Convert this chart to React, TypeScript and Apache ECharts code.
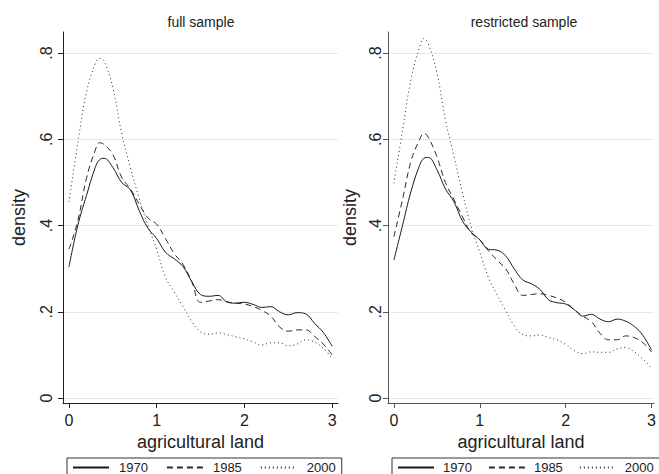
import React, { useEffect, useRef } from "react";
import * as echarts from "echarts";

const FONT = "'Liberation Sans', Arial, Helvetica, sans-serif";

const PANEL_TITLES = ["full sample", "restricted sample"];
const YEARS = ["1970", "1985", "2000"];
const X_TICKS = [0, 1, 2, 3];
const Y_TICKS = [0, 0.2, 0.4, 0.6, 0.8];
const X_LABEL = "agricultural land";
const Y_LABEL = "density";

// agricultural land grid points
const XS = [
  0, 0.1, 0.2, 0.3, 0.35, 0.4, 0.5, 0.6, 0.7, 0.8, 0.9, 1.0, 1.1, 1.2, 1.3, 1.4,
  1.5, 1.6, 1.7, 1.8, 1.9, 2.0, 2.1, 2.2, 2.3, 2.4, 2.5, 2.6, 2.7, 2.8, 2.9, 3.0,
];

// full sample densities
const FULL_1970 = [
  0.304, 0.4, 0.47, 0.535, 0.553, 0.556, 0.535, 0.5, 0.483, 0.435, 0.394, 0.37,
  0.338, 0.323, 0.305, 0.27, 0.24, 0.236, 0.238, 0.223, 0.22, 0.222, 0.217, 0.21,
  0.212, 0.2, 0.193, 0.198, 0.195, 0.173, 0.152, 0.12,
];
const FULL_1985 = [
  0.345, 0.41, 0.51, 0.575, 0.592, 0.588, 0.565, 0.512, 0.485, 0.45, 0.418, 0.403,
  0.37, 0.335, 0.31, 0.27, 0.222, 0.225, 0.228, 0.223, 0.22, 0.218, 0.212, 0.203,
  0.19, 0.165, 0.155, 0.158, 0.158, 0.143, 0.125, 0.1,
];
const FULL_2000 = [
  0.455, 0.59, 0.71, 0.775, 0.788, 0.782, 0.72, 0.615, 0.535, 0.463, 0.4, 0.345,
  0.28, 0.246, 0.212, 0.178, 0.153, 0.148, 0.151, 0.147, 0.142, 0.137, 0.13, 0.123,
  0.128, 0.128, 0.121, 0.125, 0.135, 0.13, 0.115, 0.092,
];

// restricted sample densities
const RESTR_1970 = [
  0.32, 0.4, 0.48, 0.54, 0.556, 0.558, 0.53, 0.485, 0.455, 0.41, 0.385, 0.367,
  0.345, 0.343, 0.33, 0.3, 0.274, 0.265, 0.252, 0.228, 0.221, 0.218, 0.205, 0.19,
  0.194, 0.183, 0.177, 0.183, 0.178, 0.166, 0.145, 0.111,
];
const RESTR_1985 = [
  0.374, 0.46, 0.55, 0.6, 0.614, 0.605, 0.56, 0.5, 0.46, 0.42, 0.383, 0.367,
  0.342, 0.32, 0.3, 0.265, 0.238, 0.24, 0.242, 0.238, 0.232, 0.222, 0.205, 0.19,
  0.177, 0.15, 0.135, 0.135, 0.144, 0.14, 0.128, 0.107,
];
const RESTR_2000 = [
  0.498, 0.62, 0.74, 0.815, 0.834, 0.822, 0.755, 0.645, 0.56, 0.475, 0.397, 0.338,
  0.28, 0.24, 0.203, 0.168, 0.147, 0.144, 0.146, 0.14, 0.135, 0.124, 0.11, 0.103,
  0.107, 0.106, 0.106, 0.114, 0.117, 0.107, 0.09, 0.07,
];

const PANELS = [
  [FULL_1970, FULL_1985, FULL_2000],
  [RESTR_1970, RESTR_1985, RESTR_2000],
];

const LINE_TYPES: any[] = ["solid", [6, 4], [1, 3]];
const LINE_COLORS = ["#1a1a1a", "#2a2a2a", "#2a2a2a"];

const fmtY = (v: number) => (v === 0 ? "0" : String(v).replace(/^0/, ""));

export default function App() {
  const ref = useRef<HTMLDivElement>(null);

  useEffect(() => {
    if (!ref.current) return;
    const chart = echarts.init(ref.current, null, { renderer: "svg" });

    const grids = [
      { left: 63, top: 32, width: 275, height: 371 },
      { left: 388, top: 32, width: 271, height: 371 },
    ];
    const xRanges = [
      [-0.068, 3.067],
      [-0.0686, 3.029],
    ];
    const axisColors = ["#222", "#555"];
    const yLabelMargins = [9, 5];
    const yNameGaps = [35, 29];
    const titleCenters = [201, 524];
    const legendLefts = [67, 392];
    const legendGaps = [18, 16];
    const legendTextPads = [5, 4];

    const xAxis = grids.map((_, i) => ({
      type: "value",
      gridIndex: i,
      min: xRanges[i][0],
      max: xRanges[i][1],
      name: X_LABEL,
      nameLocation: "middle",
      nameGap: 30,
      nameTextStyle: { fontSize: 18, color: "#222", fontFamily: FONT },
      axisLine: { show: true, onZero: false, lineStyle: { color: axisColors[i], width: 1 } },
      axisTick: {
        show: true,
        length: 5,
        customValues: X_TICKS,
        lineStyle: { color: axisColors[i] },
      },
      axisLabel: {
        customValues: X_TICKS,
        fontSize: 16,
        margin: 9,
        color: "#222",
        fontFamily: FONT,
      },
      splitLine: { show: false },
    }));

    const yAxis = grids.map((_, i) => ({
      type: "value",
      gridIndex: i,
      min: -0.0116,
      max: 0.849,
      name: Y_LABEL,
      nameLocation: "middle",
      nameGap: yNameGaps[i],
      nameRotate: 90,
      nameTextStyle: { fontSize: 18, color: "#222", fontFamily: FONT },
      axisLine: { show: true, onZero: false, lineStyle: { color: axisColors[i], width: 1 } },
      axisTick: {
        show: true,
        length: 5,
        customValues: Y_TICKS,
        lineStyle: { color: axisColors[i] },
      },
      axisLabel: {
        customValues: Y_TICKS,
        rotate: 90,
        fontSize: 16,
        margin: yLabelMargins[i],
        color: "#222",
        fontFamily: FONT,
        formatter: fmtY,
      },
      splitLine: { show: true, lineStyle: { color: "#e8e8e8", width: 1 } },
    }));

    const series: any[] = [];
    PANELS.forEach((panel, pi) => {
      panel.forEach((vals, si) => {
        series.push({
          type: "line",
          name: YEARS[si],
          xAxisIndex: pi,
          yAxisIndex: pi,
          data: XS.map((x, k) => [x, vals[k]]),
          smooth: 0.4,
          symbol: "none",
          showSymbol: false,
          lineStyle: { color: LINE_COLORS[si], width: 1, type: LINE_TYPES[si] },
          itemStyle: { color: LINE_COLORS[si] },
          emphasis: { disabled: true },
          z: 3 - si,
        });
      });
    });

    const title = PANEL_TITLES.map((t, i) => ({
      text: t,
      left: titleCenters[i] - 5,
      top: 10,
      textAlign: "center",
      textStyle: { fontSize: 14, fontWeight: "normal", color: "#222", fontFamily: FONT },
    }));

    const legend = legendLefts.map((l, i) => ({
      left: l,
      top: 458,
      width: 300,
      orient: "horizontal",
      data: YEARS,
      selectedMode: false,
      itemWidth: 36,
      itemHeight: 12,
      itemGap: legendGaps[i],
      padding: [3, 6, 10, 5],
      borderColor: "#333",
      borderWidth: 1,
      borderRadius: 0,
      itemStyle: { color: "transparent", borderWidth: 0, opacity: 0 },
      textStyle: {
        fontSize: 13,
        color: "#222",
        fontFamily: FONT,
        padding: [0, 0, 0, legendTextPads[i]],
      },
    }));

    chart.setOption({
      animation: false,
      backgroundColor: "#ffffff",
      textStyle: { fontFamily: FONT },
      title,
      legend,
      grid: grids,
      xAxis,
      yAxis,
      series,
    });

    return () => chart.dispose();
  }, []);

  return (
    <div
      ref={ref}
      style={{ position: "fixed", left: 0, top: 0, width: 659, height: 474 }}
    />
  );
}
